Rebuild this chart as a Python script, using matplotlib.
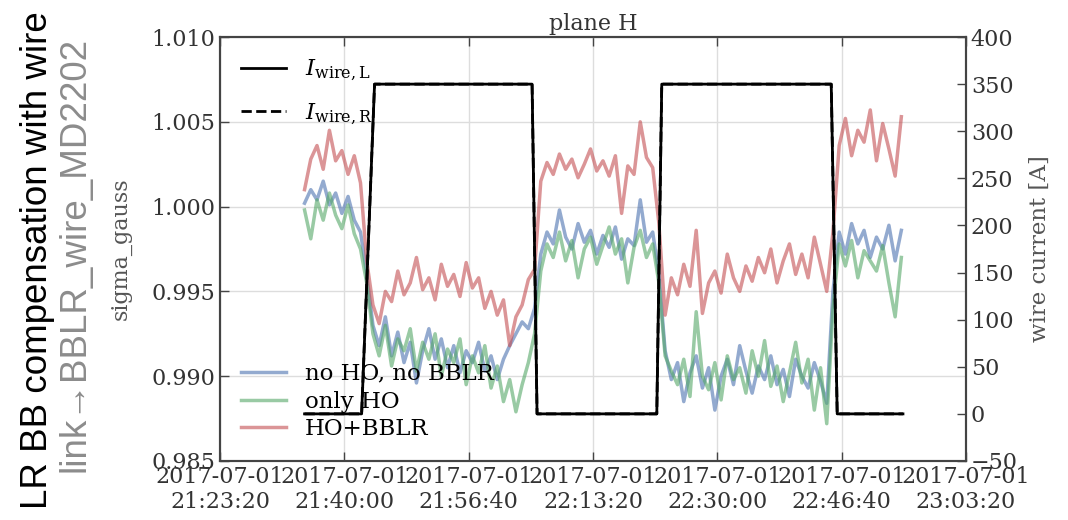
import pandas as pd
import matplotlib
matplotlib.use('Agg')
import matplotlib.pyplot as plt
import matplotlib.dates as mdates

plt.rcParams['font.family'] = 'DejaVu Serif'
plt.rcParams['mathtext.fontset'] = 'dejavuserif'

# sigma_gauss traces, one sample every 50 s starting at 21:34:40
t_start = '2017-07-01 21:34:40'
step_s = 50

no_ho = [1.0002, 1.0010, 1.0004, 1.0015, 1.0001, 1.0008, 0.9996, 1.0006, 0.9992, 0.9985,
         0.9960, 0.9930, 0.9918, 0.9935, 0.9912, 0.9926, 0.9908, 0.9920, 0.9896, 0.9915,
         0.9928, 0.9910, 0.9922, 0.9905, 0.9918, 0.9902, 0.9915, 0.9908, 0.9920, 0.9903,
         0.9912, 0.9898, 0.9910, 0.9918, 0.9925, 0.9932, 0.9928, 0.9940,
         0.9972, 0.9985, 0.9978, 0.9998, 0.9982, 0.9975, 0.9990, 0.9979, 0.9986, 0.9972,
         0.9983, 0.9976, 0.9988, 0.9969, 0.9981, 0.9977, 1.0004, 0.9979, 0.9985, 0.9960,
         0.9915, 0.9898, 0.9908, 0.9885, 0.9902, 0.9912, 0.9893, 0.9905, 0.9880, 0.9900,
         0.9910, 0.9895, 0.9918, 0.9903, 0.9890, 0.9906, 0.9898, 0.9912, 0.9895, 0.9904,
         0.9888, 0.9910, 0.9900, 0.9893, 0.9908, 0.9897, 0.9884, 0.9950,
         0.9985, 0.9972, 0.9990, 0.9978, 0.9986, 0.9970, 0.9982, 0.9975, 0.9989, 0.9968, 0.9986]

only_ho = [0.9998, 0.9981, 1.0004, 0.9992, 1.0008, 0.9995, 0.9987, 1.0001, 0.9984, 0.9975,
           0.9955, 0.9925, 0.9912, 0.9930, 0.9906, 0.9922, 0.9915, 0.9928, 0.9903, 0.9920,
           0.9910, 0.9925, 0.9900, 0.9916, 0.9908, 0.9922, 0.9895, 0.9912, 0.9902, 0.9918,
           0.9893, 0.9906, 0.9885, 0.9898, 0.9879, 0.9895, 0.9908, 0.9925,
           0.9962, 0.9978, 0.9970, 0.9985, 0.9968, 0.9980, 0.9958, 0.9975, 0.9982, 0.9966,
           0.9977, 0.9988, 0.9972, 0.9981, 0.9955, 0.9976, 0.9986, 0.9970, 0.9978, 0.9955,
           0.9912, 0.9903, 0.9895, 0.9910, 0.9888, 0.9938, 0.9900, 0.9892, 0.9908, 0.9886,
           0.9912, 0.9898, 0.9905, 0.9890, 0.9915, 0.9900, 0.9921, 0.9894, 0.9906, 0.9885,
           0.9902, 0.9920, 0.9896, 0.9910, 0.9880, 0.9905, 0.9872, 0.9940,
           0.9978, 0.9965, 0.9980, 0.9958, 0.9974, 0.9968, 0.9962, 0.9977, 0.9955, 0.9935, 0.9970]

ho_bblr = [1.0010, 1.0028, 1.0036, 1.0022, 1.0045, 1.0027, 1.0033, 1.0019, 1.0030, 1.0014,
           0.9968, 0.9942, 0.9931, 0.9950, 0.9944, 0.9962, 0.9948, 0.9955, 0.9970, 0.9951,
           0.9958, 0.9945, 0.9966, 0.9953, 0.9960, 0.9947, 0.9967, 0.9952, 0.9958, 0.9940,
           0.9950, 0.9936, 0.9945, 0.9918, 0.9935, 0.9942, 0.9957, 0.9963,
           1.0015, 1.0026, 1.0019, 1.0031, 1.0022, 1.0028, 1.0017, 1.0025, 1.0034, 1.0021,
           1.0027, 1.0018, 1.0030, 0.9996, 1.0024, 1.0019, 1.0050, 1.0029, 1.0023, 0.9990,
           0.9936, 0.9958, 0.9948, 0.9966, 0.9953, 0.9986, 0.9937, 0.9955, 0.9962, 0.9949,
           0.9972, 0.9958, 0.9950, 0.9965, 0.9956, 0.9970, 0.9961, 0.9975, 0.9955, 0.9968,
           0.9978, 0.9960, 0.9972, 0.9958, 0.9982, 0.9966, 0.9950, 0.9985,
           1.0036, 1.0052, 1.0030, 1.0045, 1.0038, 1.0057, 1.0027, 1.0049, 1.0034, 1.0018, 1.0053]

# wire currents
wire_time = ['21:34:40', '21:42:19', '21:44:03', '22:05:10', '22:05:50',
             '22:21:53', '22:22:33', '22:45:16', '22:46:04', '22:54:53']
wire_L = [0, 0, 350, 350, 0, 0, 350, 350, 0, 0]
wire_R = [0, 0, 350, 350, 0, 0, 350, 350, 0, 0]

t = pd.date_range(t_start, periods=len(no_ho), freq=f'{step_s}s')
tw = pd.to_datetime(['2017-07-01 ' + s for s in wire_time])
x_ticks = pd.date_range('2017-07-01 21:23:20', '2017-07-01 23:03:20', freq='1000s')

fig = plt.figure(figsize=(10.68, 5.2), dpi=100)
ax = fig.add_axes([0.206, 0.1135, 0.6985, 0.8153])

ax.plot(t, no_ho, color='#4C72B0', alpha=0.6, lw=2.5, label='no HO, no BBLR')
ax.plot(t, only_ho, color='#55A868', alpha=0.6, lw=2.5, label='only HO')
ax.plot(t, ho_bblr, color='#C44E52', alpha=0.6, lw=2.5, label='HO+BBLR')

ax.set_ylim(0.985, 1.010)
ax.set_yticks([0.985, 0.990, 0.995, 1.000, 1.005, 1.010])
ax.yaxis.set_major_formatter(matplotlib.ticker.FormatStrFormatter('%.3f'))
ax.set_xlim(x_ticks[0], x_ticks[-1])
ax.set_xticks(x_ticks)
ax.xaxis.set_major_formatter(mdates.DateFormatter('%Y-%m-%d\n%H:%M:%S'))
ax.grid(True, color='#dddddd', lw=1)
ax.set_axisbelow(True)
ax.set_ylabel('sigma_gauss', fontsize=16, color='#555555', labelpad=14)
ax.set_title('plane H', fontsize=16, color='#333333', pad=5)
ax.tick_params(direction='in', length=6.5, width=1, top=True, right=False,
               colors='#444444', labelcolor='#333333', labelsize=16)
for s in ax.spines.values():
    s.set_color('#444444')
    s.set_linewidth(1.5)

ax2 = ax.twinx()
ax2.plot(tw, wire_L, color='black', lw=2, label=r'$I_{\rm wire,L}$')
ax2.plot(tw, wire_R, color='black', lw=2, ls='--', label=r'$I_{\rm wire,R}$')
ax2.set_ylim(-50, 400)
ax2.set_yticks(range(-50, 401, 50))
ax2.set_ylabel('wire current [A]', fontsize=16.5, color='#555555', labelpad=8)
ax2.tick_params(direction='in', length=6.5, width=1, colors='#444444',
                labelcolor='#333333', labelsize=16)
for s in ax2.spines.values():
    s.set_color('#444444')
    s.set_linewidth(1.5)

ax.legend(loc='lower left', frameon=False, fontsize=16.5, handlelength=2.0,
          handletextpad=0.8, labelspacing=0.25, bbox_to_anchor=(0.0, 0.0))
ax2.legend(loc='upper left', frameon=False, fontsize=16.5, handlelength=2.0,
           handletextpad=0.8, labelspacing=0.75, bbox_to_anchor=(0.0, 1.0))

fig.text(0.035, 0.5, 'LR BB compensation with wire', rotation=90, ha='center', va='center',
         fontsize=26.5, family='Liberation Sans', color='black')
fig.text(0.07, 0.51, 'link\u2192BBLR_wire_MD2202', rotation=90, ha='center', va='center',
         fontsize=26.5, family=['Liberation Sans', 'DejaVu Sans'], color='#8c8c8c')

fig.savefig('out.png', dpi=100)
